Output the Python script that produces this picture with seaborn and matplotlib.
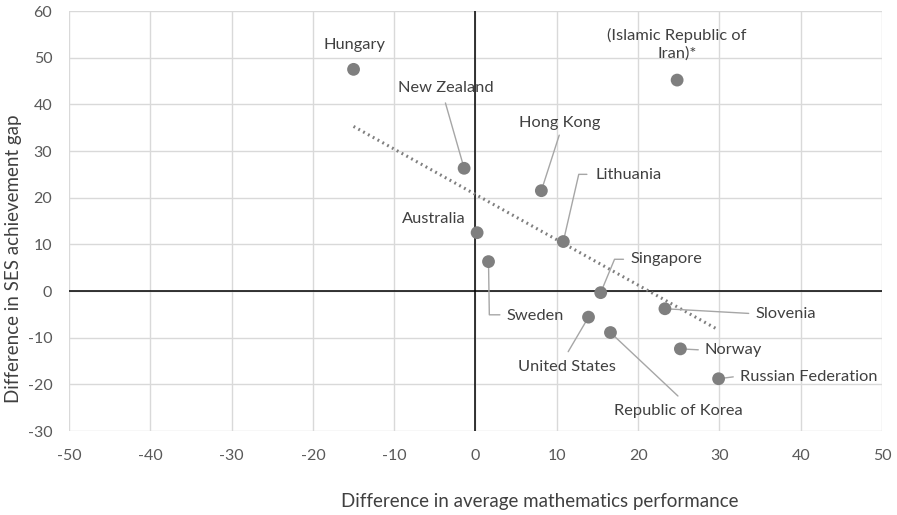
import matplotlib
matplotlib.use("Agg")
import matplotlib.pyplot as plt
import pandas as pd
import seaborn as sns

countries = [
	"Hungary", "New Zealand", "(Islamic Republic of\nIran)*", "Hong Kong",
	"Australia", "Lithuania", "Sweden", "Singapore", "United States",
	"Republic of Korea", "Slovenia", "Norway", "Russian Federation",
]
math_diff = [-15.0, -1.4, 24.8, 8.1, 0.2, 10.8, 1.6, 15.4, 13.9, 16.6, 23.3, 25.2, 29.9]
ses_gap_diff = [47.5, 26.3, 45.2, 21.5, 12.5, 10.6, 6.3, -0.35, -5.6, -8.9, -3.8, -12.4, -18.8]

x_ticks = list(range(-50, 51, 10))
y_ticks = list(range(-30, 61, 10))

# label placement: (text x, text y, ha, leader bend points)
label_layout = {
	"Hungary": (-14.9, 52.7, "center", []),
	"New Zealand": (-3.7, 43.4, "center", [(-3.7, 40.3)]),
	"(Islamic Republic of\nIran)*": (24.8, 52.8, "center", []),
	"Hong Kong": (10.3, 36.0, "center", [(10.3, 33.4)]),
	"Australia": (-5.1, 15.4, "center", []),
	"Lithuania": (14.7, 24.9, "left", [(12.7, 25.0), (13.7, 25.0)]),
	"Sweden": (7.3, -5.4, "center", [(1.7, -5.1), (3.0, -5.1)]),
	"Singapore": (19.1, 6.8, "left", [(17.1, 6.8), (18.2, 6.8)]),
	"United States": (11.3, -16.3, "center", [(11.4, -13.0)]),
	"Republic of Korea": (24.9, -25.7, "center", [(24.9, -22.5)]),
	"Slovenia": (34.4, -4.9, "left", [(33.6, -4.8)]),
	"Norway": (28.2, -12.6, "left", [(27.4, -12.6)]),
	"Russian Federation": (32.5, -18.4, "left", [(31.7, -18.4)]),
}

df = pd.DataFrame({"Country": countries, "Math": math_diff, "SES": ses_gap_diff})

sns.set_theme(style="white")
plt.rcParams["font.family"] = ["Lato", "DejaVu Sans"]
plt.rcParams["axes.unicode_minus"] = False

text_color = "#404040"
tick_color = "#595959"
dot_color = "#7f7f7f"

fig = plt.figure(figsize=(8.97, 5.15), dpi=100)
ax = fig.add_axes([0.0769, 0.1631, 0.9064, 0.8155])

for v in x_ticks:
	ax.axvline(v, color="#d9d9d9", lw=1, zorder=0)
for v in y_ticks:
	ax.axhline(v, color="#d9d9d9", lw=1, zorder=0)
ax.axvline(0, color="black", lw=1.1, zorder=1)
ax.axhline(0, color="black", lw=1.1, zorder=1)

sns.regplot(
	data=df, x="Math", y="SES", ax=ax, scatter=False, ci=None,
	line_kws={"color": "#7f7f7f", "lw": 2.2, "ls": (0, (0.6, 1.2)), "zorder": 2},
)

for name, mx, my in zip(countries, math_diff, ses_gap_diff):
	tx, ty, ha, bends = label_layout[name]
	if bends:
		xs = [mx] + [b[0] for b in bends]
		ys = [my] + [b[1] for b in bends]
		ax.plot(xs, ys, color="#a6a6a6", lw=1, zorder=2)
	ax.text(tx, ty, name, ha=ha, va="center", fontsize=11.8, color=text_color,
			linespacing=1.3, zorder=4)

sns.scatterplot(data=df, x="Math", y="SES", ax=ax, s=85, color=dot_color,
				edgecolor="none", zorder=3)

ax.set_xlim(-50, 50)
ax.set_ylim(-30, 60)
ax.set_xticks(x_ticks)
ax.set_yticks(y_ticks)
ax.tick_params(axis="both", length=0, labelsize=11.5, labelcolor=tick_color)
ax.tick_params(axis="x", pad=13)
ax.tick_params(axis="y", pad=12)
for s in ax.spines.values():
	s.set_visible(False)

xlab = ax.set_xlabel("Difference in average mathematics performance", fontsize=13.5,
					 color=text_color)
xlab.set_verticalalignment("center")
ax.xaxis.set_label_coords(0.579, -0.167)

ylab = ax.set_ylabel("Difference in SES achievement gap", fontsize=13.5, color=text_color)
ylab.set_verticalalignment("center")
ax.yaxis.set_label_coords(-0.068, 0.41)

fig.savefig("out.png", dpi=100)
